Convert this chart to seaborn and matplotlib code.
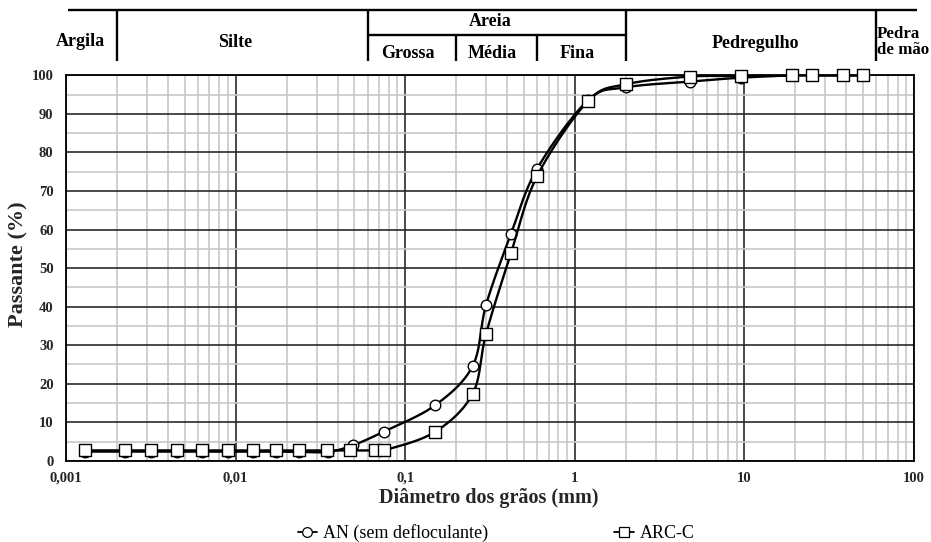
import numpy as np
import matplotlib
matplotlib.use("Agg")
import matplotlib.pyplot as plt
from matplotlib.lines import Line2D
from matplotlib.ticker import FixedLocator, NullFormatter
import seaborn as sns

# Grain-size distribution curves (diameter in mm, percent passing)
an_diam = [0.00129, 0.00223, 0.00317, 0.00449, 0.0063, 0.00897, 0.0127, 0.0173,
           0.0237, 0.035, 0.049, 0.075, 0.15, 0.25, 0.30, 0.42, 0.60, 1.2, 2.0,
           4.8, 9.5, 19, 25, 38, 50]
an_pass = [2.4, 2.4, 2.4, 2.4, 2.4, 2.4, 2.4, 2.4,
           2.3, 2.3, 4.0, 7.6, 14.4, 24.6, 40.5, 58.8, 75.8, 93.6, 96.9,
           98.4, 99.4, 100, 100, 100, 100]

arc_diam = [0.00129, 0.00223, 0.00317, 0.00449, 0.0063, 0.00897, 0.0127, 0.0173,
            0.0237, 0.0344, 0.0472, 0.0662, 0.075, 0.15, 0.25, 0.30, 0.42, 0.60,
            1.2, 2.0, 4.8, 9.5, 19, 25, 38, 50]
arc_pass = [2.7, 2.7, 2.7, 2.7, 2.7, 2.7, 2.7, 2.7,
            2.7, 2.7, 2.7, 2.7, 2.7, 7.5, 17.4, 33.0, 53.8, 73.9,
            93.4, 97.7, 99.7, 99.8, 100, 100, 100, 100]

series_names = ["AN (sem defloculante)", "ARC-C"]

x_tick_values = [0.001, 0.01, 0.1, 1, 10, 100]
x_tick_labels = ["0,001", "0,01", "0,1", "1", "10", "100"]
y_tick_values = list(range(0, 101, 10))

# Soil classification scale drawn above the chart
class_bounds = [0.002, 0.06, 0.2, 0.6, 2.0, 60]
class_names = ["Argila", "Silte", "Areia", "Grossa", "Média", "Fina", "Pedregulho", "Pedra\nde mão"]
class_label_x = [0.00122, 0.0099, 0.317, 0.1036, 0.326, 1.033, 11.6, 60.6]

sns.set_theme(style="white")
plt.rcParams["font.family"] = ["Liberation Serif", "DejaVu Serif"]
plt.rcParams["text.color"] = "black"


def smooth_curve(xs, ys, n=24):
    """Bezier smoothing in (log x, y) display-like space."""
    u = np.log10(np.asarray(xs, float)) * 169.7
    v = np.asarray(ys, float) * 3.854
    P = np.column_stack([u, v])
    out = []
    m = len(P)
    t = np.linspace(0, 1, n)[:, None]
    for i in range(m - 1):
        p0 = P[i - 1] if i > 0 else P[i]
        p1 = P[i]
        p2 = P[i + 1]
        p3 = P[i + 2] if i + 2 < m else P[i + 1]
        b1 = p1 + (p2 - p0) / 6.0
        b2 = p2 - (p3 - p1) / 6.0
        seg = ((1 - t) ** 3) * p1 + 3 * ((1 - t) ** 2) * t * b1 + 3 * (1 - t) * t ** 2 * b2 + t ** 3 * p2
        out.append(seg if i == 0 else seg[1:])
    out = np.vstack(out)
    return 10 ** (out[:, 0] / 169.7), out[:, 1] / 3.854


fig = plt.figure(figsize=(9.31, 5.42), dpi=100)
ax = fig.add_axes([0.0709, 0.1498, 0.9108, 0.7111])
ax.set_xscale("log")
ax.set_xlim(0.001, 100)
ax.set_ylim(0, 100)

# grid
ax.set_axisbelow(True)
minor_x = [k * 10.0 ** e for e in range(-3, 2) for k in range(2, 10)]
ax.xaxis.set_major_locator(FixedLocator(x_tick_values))
ax.xaxis.set_minor_locator(FixedLocator(minor_x))
ax.xaxis.set_minor_formatter(NullFormatter())
ax.set_xticklabels(x_tick_labels)
ax.yaxis.set_major_locator(FixedLocator(y_tick_values))
ax.yaxis.set_minor_locator(FixedLocator(list(range(5, 100, 10))))
ax.grid(which="minor", color="#c8c8c8", lw=1.2)
ax.grid(which="major", color="#2a2a2a", lw=1.2)
ax.tick_params(which="both", length=0)
ax.tick_params(axis="x", pad=8, labelsize=10.5)
ax.tick_params(axis="y", pad=9, labelsize=10.5)
for lab in ax.get_xticklabels() + ax.get_yticklabels():
    lab.set_fontweight("bold")
for sp in ax.spines.values():
    sp.set_color("black")
    sp.set_linewidth(1.3)

# curves
sx, sy = smooth_curve(an_diam, an_pass)
sns.lineplot(x=sx, y=sy, sort=False, estimator=None, color="black", lw=1.7, ax=ax, zorder=3)
sns.scatterplot(x=an_diam, y=an_pass, marker="o", s=58, facecolor="white", edgecolor="black",
                linewidth=1.0, ax=ax, zorder=4, clip_on=False)
sx, sy = smooth_curve(arc_diam, arc_pass)
sns.lineplot(x=sx, y=sy, sort=False, estimator=None, color="black", lw=1.7, ax=ax, zorder=5)
sns.scatterplot(x=arc_diam, y=arc_pass, marker="s", s=68, facecolor="white", edgecolor="black",
                linewidth=1.0, ax=ax, zorder=6, clip_on=False)

ax.set_xlabel("Diâmetro dos grãos (mm)", fontsize=14.5, fontweight="bold", va="center")
ax.xaxis.set_label_coords(0.499, -0.0965)
ax.set_ylabel("Passante (%)", fontsize=16, fontweight="bold", va="center")
ax.yaxis.set_label_coords(-0.0566, 0.51)

# classification header
tr = ax.get_xaxis_transform()
y_top, y_mid, y_bot = 1.170, 1.105, 1.037
hdr = dict(color="black", lw=1.7, transform=tr, clip_on=False, solid_capstyle="butt")
ax.plot([0.00103, 104], [y_top, y_top], **hdr)
ax.plot([class_bounds[1], class_bounds[4]], [y_mid, y_mid], **hdr)
for b in [class_bounds[0], class_bounds[1], class_bounds[4], class_bounds[5]]:
    ax.plot([b, b], [y_top, y_bot], **hdr)
for b in [class_bounds[2], class_bounds[3]]:
    ax.plot([b, b], [y_mid, y_bot], **hdr)

label_y = [1.088, 1.085, 1.139, 1.058, 1.058, 1.058, 1.084, 1.086]
for name, lx, ly in zip(class_names, class_label_x, label_y):
    edge = name.startswith("Pedra")
    ax.text(lx, ly, name, transform=tr, ha="left" if edge else "center",
            va="center", fontsize=12.2 if edge else 13, fontweight="bold", linespacing=1.0)

# legend
handles = [
    Line2D([], [], color="black", lw=1.3, marker="o", ms=7, mfc="white", mec="black", mew=0.9),
    Line2D([], [], color="black", lw=1.3, marker="s", ms=7.5, mfc="white", mec="black", mew=0.9),
]
fig.legend(handles, series_names, loc="center", bbox_to_anchor=(496 / 931, 9 / 542), ncol=2,
           frameon=False, fontsize=13, handlelength=1.1, handletextpad=0.3, columnspacing=7.0)

fig.savefig("out.png", dpi=100)
